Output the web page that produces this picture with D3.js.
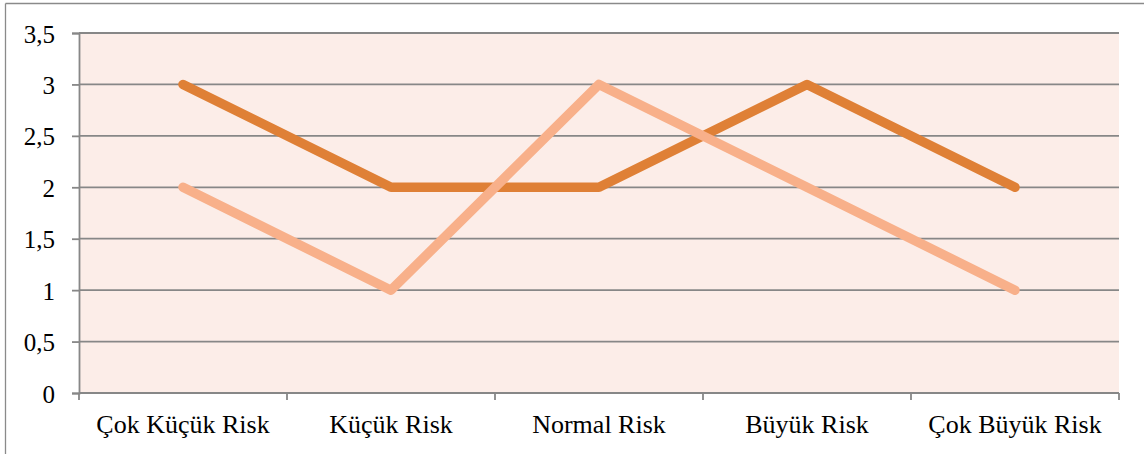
<!DOCTYPE html>
<html><head><meta charset="utf-8">
<script src="https://cdn.jsdelivr.net/npm/d3@7"></script>
<style>
html,body{margin:0;padding:0;background:#fff;}
svg{display:block;}
</style></head>
<body>
<svg id="chart" width="1144" height="454"></svg>
<script>
const categories = ["Çok Küçük Risk","Küçük Risk","Normal Risk","Büyük Risk","Çok Büyük Risk"];
const seriesA = [3, 2, 2, 3, 2];
const seriesB = [2, 1, 3, 2, 1];
const yTicks = [0, 0.5, 1, 1.5, 2, 2.5, 3, 3.5];
const yTickLabels = ["0","0,5","1","1,5","2","2,5","3","3,5"];

(function(){
const svg = d3.select("#chart");
const pLeft = 79, pRight = 1119, pTop = 33, pBottom = 393;
const FONT = "Liberation Serif";

// outer frame
svg.append("line").attr("x1",5.5).attr("x2",1144).attr("y1",3.5).attr("y2",3.5).attr("stroke","#8a8a8a").attr("stroke-width",1.3);
svg.append("line").attr("x1",5.5).attr("x2",5.5).attr("y1",3.5).attr("y2",454).attr("stroke","#8a8a8a").attr("stroke-width",1.3);

const x = d3.scaleBand().domain(categories).range([pLeft, pRight]);
const y = d3.scaleLinear().domain([0, 3.5]).range([pBottom, pTop]);

svg.append("rect").attr("x",pLeft).attr("y",pTop).attr("width",pRight-pLeft).attr("height",pBottom-pTop).attr("fill","#fcede8");

// gridlines
svg.append("g").selectAll("line").data(yTicks.filter(d=>d>0)).join("line")
  .attr("x1",pLeft).attr("x2",pRight).attr("y1",d=>y(d)).attr("y2",d=>y(d))
  .attr("stroke","#878787").attr("stroke-width",1.8);

// y axis
const yAxis = d3.axisLeft(y).tickValues(yTicks).tickSize(7).tickPadding(17)
  .tickFormat((d,i)=>yTickLabels[i]);
const gy = svg.append("g").attr("transform",`translate(${pLeft},0)`).call(yAxis)
  .attr("font-family", FONT).attr("font-size", 25);
gy.select(".domain").attr("stroke","#878787").attr("stroke-width",1.8);
gy.selectAll(".tick line").attr("stroke","#878787").attr("stroke-width",1.8);
gy.selectAll(".tick text").attr("fill","#000").attr("dy","0.36em");

// x axis
const gx = svg.append("g").attr("transform",`translate(0,${pBottom})`)
  .attr("font-family", FONT).attr("font-size", 26);
gx.append("line").attr("x1",pLeft).attr("x2",pRight).attr("y1",0).attr("y2",0).attr("stroke","#878787").attr("stroke-width",1.8);
const bounds = categories.map(c=>x(c)).concat([pRight]);
gx.selectAll("line.tk").data(bounds).join("line").attr("class","tk")
  .attr("x1",d=>d).attr("x2",d=>d).attr("y1",0).attr("y2",7)
  .attr("stroke","#878787").attr("stroke-width",1.8);
gx.selectAll("text").data(categories).join("text")
  .attr("x",d=>x(d)+x.bandwidth()/2).attr("y",40).attr("fill","#000")
  .attr("text-anchor","middle").text(d=>d);

const line = d3.line().x((d,i)=>x(categories[i])+x.bandwidth()/2).y(d=>y(d));

svg.append("path").datum(seriesA).attr("d",line).attr("fill","none")
  .attr("stroke","#df8036").attr("stroke-width",9.5).attr("stroke-linejoin","round").attr("stroke-linecap","round");
svg.append("path").datum(seriesB).attr("d",line).attr("fill","none")
  .attr("stroke","#f8b08a").attr("stroke-width",9.5).attr("stroke-linejoin","round").attr("stroke-linecap","round");
})();
</script>
</body></html>
